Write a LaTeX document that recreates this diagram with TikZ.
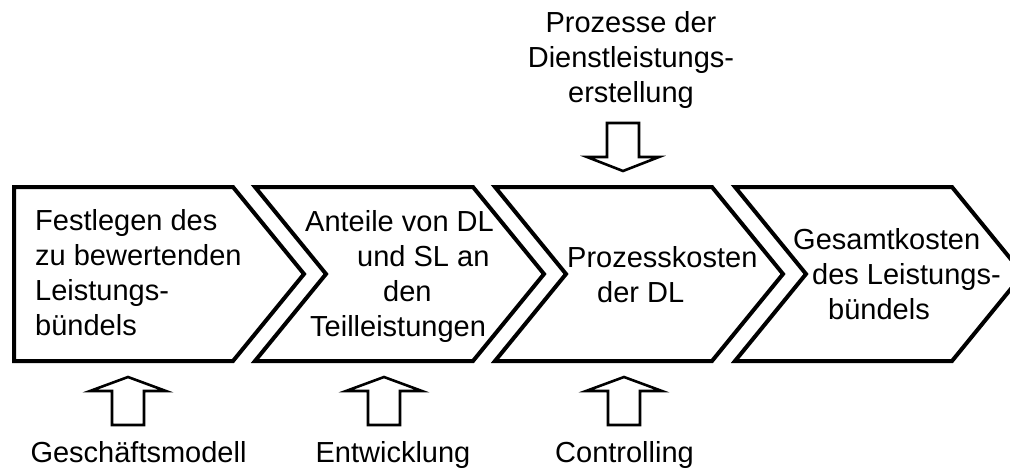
\documentclass[tikz,border=0pt]{standalone}
\usepackage{fontspec}
\setmainfont{Liberation Sans}
\usetikzlibrary{calc}
\begin{document}
\begin{tikzpicture}[x=1pt,y=-1pt,
  chevron/.style={draw=black,line width=4pt,line join=miter,fill=white},
  blockarrow/.style={draw=black,line width=2.6pt,line join=miter,fill=white},
  lbl/.style={inner sep=0pt,font=\fontsize{29}{34.8}\selectfont},
  lblL/.style={lbl,align=left,anchor=base west},
  lblC/.style={lbl,align=center,anchor=base}]
\useasboundingbox (0,0) rectangle (1010,472);
\clip (0,0) rectangle (1010,472);
% chevrons
\draw[chevron] (14,187) -- (233,187) -- (304,274) -- (233,361) -- (14,361) -- cycle;
\draw[chevron] (255,187) -- (473,187) -- (544,274) -- (473,361) -- (255,361) -- (326,274) -- cycle;
\draw[chevron] (495,187) -- (712,187) -- (783,274) -- (712,361) -- (495,361) -- (566,274) -- cycle;
\draw[chevron] (735,187) -- (952,187) -- (1023,274) -- (952,361) -- (735,361) -- (806,274) -- cycle;
% chevron texts (anchored at the baseline of the last line)
\node[lblL] (t1) at (35,335) {Festlegen des\\zu bewertenden\\Leistungs-\\bündels};
\node[lblL] (t2) at (305,336) {Anteile von DL\\\hspace*{52pt}und SL an\\\hspace*{78pt}den\\\hspace*{5pt}Teilleistungen};
\node[lblL] (t3) at (567,302) {Prozesskosten\\\hspace*{30pt}der DL};
\node[lblL] (t4) at (793,319) {Gesamtkosten\\\hspace*{19pt}des Leistungs-\\\hspace*{35pt}bündels};
% top input
\node[lblC] (top) at (631,102) {Prozesse der\\Dienstleistungs-\\erstellung};
\coordinate (ta) at (623,123);
\draw[blockarrow] ($(ta)+(-16,0)$) -- ($(ta)+(16,0)$) -- ($(ta)+(16,34)$) -- ($(ta)+(36,34)$)
  -- ($(ta)+(0,48)$) -- ($(ta)+(-36,34)$) -- ($(ta)+(-16,34)$) -- cycle;
% bottom inputs
\foreach \c/\n in {128/b1,384/b2,624/b3}{
  \coordinate (\n a) at (\c,425);
  \draw[blockarrow] ($(\n a)+(-16,0)$) -- ($(\n a)+(16,0)$) -- ($(\n a)+(16,-34)$) -- ($(\n a)+(38,-34)$)
    -- ($(\n a)+(0,-48)$) -- ($(\n a)+(-38,-34)$) -- ($(\n a)+(-16,-34)$) -- cycle;
}
\node[lblC] (l1) at (138.5,462) {Geschäftsmodell};
\node[lblC] (l2) at (393,462) {Entwicklung};
\node[lblC] (l3) at (624.5,462) {Controlling};
\end{tikzpicture}
\end{document}
